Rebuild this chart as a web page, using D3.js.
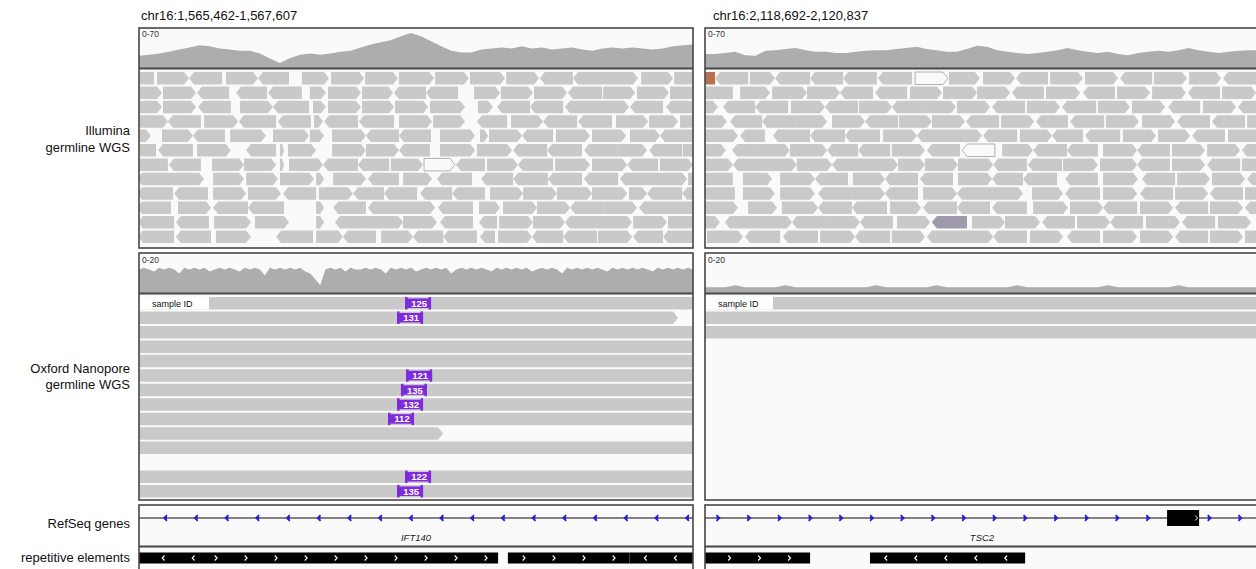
<!DOCTYPE html>
<html>
<head>
<meta charset="utf-8">
<script src="https://cdn.jsdelivr.net/npm/d3@7"></script>
<style>
  body { margin: 0; background: #fff; font-family: "Liberation Sans", Arial, sans-serif; }
</style>
</head>
<body>
<div id="chart"></div>
<script>
// loci shown side by side (2146 bp windows)
var loci = ["chr16:1,565,462-1,567,607", "chr16:2,118,692-2,120,837"];
var winLen = 2146;

// coverage (Illumina scale 0-70, Nanopore scale 0-20)
var illuminaCovL = [22,24,26,29,33,37,41,39,35,33,31,31,26,17,9,18,24,26,24,26,29,31,37,42,46,50,57,63,57,48,39,31,28,28,33,35,37,35,39,35,37,33,35,37,33,31,35,37,35,37,35,33,35,39,41,42];
var illuminaCovR = [25,25,27,29,23,22,31,32,34,36,32,29,29,27,27,29,31,32,32,34,36,38,34,32,29,29,34,40,38,32,29,27,25,27,29,32,36,32,29,27,29,25,23,27,29,31,29,32,36,32,29,27,29,31,32,32];
var nanoCovL = [12,13,12,11,13,12,13,12,10,13,12,
  13,12,13,11,12,13,12,13,12,11,
  13,12,13,12,9,13,12,13,12,13,
  12,13,11,10,7,4,12,
  13,12,13,11,13,12,12,13,12,
  13,12,10,13,12,13,12,13,11,12,
  13,12,13,12,13,10,12,13,12,13,
  12,13,12,11,13,12,13,12,13,12,
  13,11,12,13,12,13,12,10,13,12,
  13,12,13,12,13,12,11,13,12,13,
  12,13,12,13,12,11,13,12,13,12,13,12,13,12];
var nanoCovR = [3,3,3,4,3,3,3,3,4,3,3,3,3,3,3,3,3,4,3,3,3,3,3,4,3,3,3,3,3,3,3,4,3,3,3,3,3,3,3,3,4,3,3,3,3,3,3,4,3,3,3,3,3,3,3,3];

// Illumina reads: "start:end" (bp from window start), strand, flag (w = mapq 0, d = dark, o = clipped)
var illuminaReadsL = [
  "-77:58< 70:194> 194:322< 337:461> 461:581< 631:736> 744:872> 876:1003> 1007:1143> 1147:1278> 1282:1418> 1422:1550> 1553:1681< 1681:1805< 1805:1933> 1945:2069> 2073:2200>",
  "-39:89> 93:221> 225:349< 376:496< 500:631< 662:724> 732:860> 864:984> 988:1112< 1112:1236< 1298:1399> 1402:1526> 1530:1658> 1662:1794< 1798:1922> 1929:2053> 2057:2185>",
  "-39:89> 93:221> 229:356< 391:519> 519:659< 674:724> 732:860> 864:988> 992:1120> 1127:1263> 1313:1371> 1387:1515< 1515:1643< 1650:1778< 1778:1898> 1902:2030< 2042:2169<",
  "-15:112> 112:240< 252:384> 387:531< 538:666< 678:713> 717:848< 852:988< 1007:1135> 1139:1263> 1309:1426< 1441:1565> 1565:1697< 1701:1832< 1848:1972> 1976:2088> 2096:2224>",
  "-81:46> 89:209> 209:333< 353:492> 519:659> 662:717> 748:879> 879:1007< 1007:1131< 1166:1302> 1321:1352> 1356:1484> 1484:1604< 1615:1747> 1755:1887> 1902:2018> 2018:2173<",
  "-62:66< 74:209< 225:356> 415:531< 546:562> 577:686> 748:879> 879:1007> 1007:1127< 1166:1302> 1309:1445> 1449:1581< 1581:1716< 1724:1852< 1852:1968> 1976:2104< 2107:2235>",
  "-15:112< 116:240< 283:407> 407:531> 546:562> 581:713> 713:848< 848:969< 976:1100> 1104:1224>w 1228:1340< 1348:1468> 1468:1604< 1612:1747> 1755:1891> 1891:2011< 2018:2146>",
  "-8:132< 132:252> 287:407> 415:538> 546:678> 686:717> 752:879> 887:1007< 1023:1135> 1154:1290< 1325:1449< 1449:1584< 1584:1716< 1724:1856< 1863:1987< 1987:2123> 2127:2251>",
  "-8:132< 136:267< 287:415> 422:550> 558:686< 697:829> 829:949< 949:1077< 1089:1213< 1213:1340< 1360:1488> 1488:1619> 1619:1755> 1755:1891> 1898:1968> 1968:2104< 2104:2231<",
  "-8:124< 151:279> 287:422< 422:562< 686:717> 752:879< 887:1007< 1007:1147> 1158:1294< 1317:1399> 1410:1542> 1542:1670> 1670:1798< 1798:1929> 1937:2057< 2057:2185>",
  "-4:136< 143:271< 291:434> 449:581> 686:717> 759:879< 879:1023> 1023:1154> 1166:1294< 1317:1387< 1395:1526> 1526:1650> 1650:1778< 1778:1910> 1914:2045> 2049:2177>",
  "-4:136< 143:279< 298:434> 531:674< 686:790> 790:918< 938:1061> 1061:1178< 1178:1309< 1321:1379< 1391:1522> 1522:1643< 1643:1774< 1778:1910> 1914:2030< 2030:2160<"
];
var illuminaReadsR = [
  "-89:39<o 39:167< 174:271> 271:407< 407:535< 535:666< 670:802< 814:941>w 945:1065> 1077:1201> 1205:1329< 1337:1464> 1472:1600> 1608:1732< 1739:1867> 1875:1999> 2007:2135<",
  "-19:108< 136:252> 260:395> 395:523> 523:651< 659:783< 794:918> 922:1054> 1054:1182> 1189:1313< 1321:1453> 1464:1588< 1596:1724> 1732:1863> 1871:1995< 2003:2135>",
  "-77:50> 70:194< 194:322< 333:465> 465:593< 597:724> 724:845< 845:972> 976:1104> 1112:1240< 1247:1375> 1383:1515< 1522:1646> 1654:1782> 1794:1918< 1929:2057> 2065:2193<",
  "-39:85> 97:221< 221:349< 349:473> 492:620> 620:748< 752:879> 879:1007> 1011:1139< 1147:1275> 1282:1406< 1414:1546< 1553:1681> 1693:1821> 1829:1956< 1964:2092< 2100:2228>",
  "-4:128> 136:232< 263:407< 407:542< 542:678< 690:821> 821:949< 949:1073> 1077:1209< 1220:1344> 1344:1464< 1472:1608< 1619:1747> 1755:1879> 1887:2014< 2026:2154>",
  "-46:81> 105:201< 201:329> 329:473> 473:593< 593:717< 724:852> 860:988< 996:1123<w 1151:1271> 1271:1402< 1402:1522< 1542:1674> 1674:1801< 1809:1937> 1945:2073> 2080:2208<",
  "-20:108> 108:225< 225:356> 356:492> 492:620< 620:748> 748:852> 852:980> 980:1116> 1116:1247< 1251:1383< 1387:1522> 1530:1674> 1674:1801< 1809:1937> 1945:2073< 2080:2208>",
  "-20:108< 147:260> 291:426> 426:554< 573:697> 697:825< 833:961< 980:1112> 1112:1232< 1232:1364< 1395:1522< 1542:1677> 1693:1821< 1829:1956> 1964:2092> 2100:2228<",
  "-12:116< 147:271> 291:426> 438:569< 569:697> 697:825< 845:976> 976:1112< 1112:1232> 1267:1387> 1395:1530< 1542:1674> 1685:1813< 1821:1949> 1956:2084< 2092:2220>",
  "-4:128> 167:279> 298:438> 438:569< 569:705< 717:837> 845:976< 976:1104< 1112:1247< 1271:1406> 1414:1542> 1542:1674< 1685:1813> 1821:1949< 1956:2084> 2092:2220<",
  "-70:58> 77:205< 205:337> 337:473< 473:600> 600:728< 744:872> 879:1015<d 1034:1162> 1162:1298> 1306:1433< 1441:1569> 1569:1697< 1708:1840> 1848:1976< 1987:2115>",
  "8:147> 155:291< 302:438< 446:581> 581:717< 724:852> 860:988< 988:1116> 1116:1247< 1259:1387> 1402:1530< 1542:1674> 1685:1813> 1821:1949< 1956:2084> 2092:2220>"
];

// Nanopore long reads, one per row
var nanoReadsL = ["-4000:6000>", "-4000:2088>", "-4000:6000>", "-4000:6000>", "-4000:6000>", "-4000:6000>", "-4000:6000>",
  "-4000:6000>", "-4000:6000>", "-4000:1178>", "-4000:6000>", "", "-4000:6000>", "-4000:6000>"];
var nanoReadsR = ["-4000:6000>", "-4000:6000>", "-4000:6000>"];

// insertions in the Nanopore reads (left locus)
var insRows = [0, 1, 5, 6, 7, 8, 12, 13];
var insPos = [1081, 1050, 1085, 1065, 1050, 1015, 1081, 1050];
var insSize = ["125", "131", "121", "135", "132", "112", "122", "135"];

// RefSeq genes
var geneNames = ["IFT140", "TSC2"];
var geneStrands = ["-", "+"];
var geneExons = [[], [[1790, 1914]]];

// repetitive elements: [start, end, strand]
var repeatsL = [[-200, 236, "-"], [236, 1391, "+"], [1429, 1900, "+"], [1900, 2400, "-"]];
var repeatsR = [[-200, 407, "+"], [639, 1240, "-"]];

var trackLabels = [["Illumina", "germline WGS"], ["Oxford Nanopore", "germline WGS"], ["RefSeq genes"], ["repetitive elements"]];

var W = 1256, H = 569;
var svg = d3.select("#chart").append("svg").attr("width", W).attr("height", H);

var panels = [
  {x0: 139, x1: 693, covI: illuminaCovL, covN: nanoCovL, readsI: illuminaReadsL, readsN: nanoReadsL, reps: repeatsL},
  {x0: 705, x1: 1259, covI: illuminaCovR, covN: nanoCovR, readsI: illuminaReadsR, readsN: nanoReadsR, reps: repeatsR}
];

var L = {illTop: 28, illCov: 68, illBot: 248, readTop: 72, pitch: 14.4, readH: 12.5,
  nanoTop: 253, nanoCov: 293, nanoBot: 500, nReadTop: 297, nPitch: 14.46,
  geneTop: 505, geneLine: 518, repTop: 546.5, repBot: 575};

var border = "#474747";
var readColor = {"": "#c9c9c9", w: "#f9f9f9", d: "#9e9aab", o: "#b8714e"};

function parseRow(str) {
  str = str.trim();
  if (!str) return [];
  return str.split(/\s+/).map(function(t) {
    var m = t.match(/^(-?\d+):(-?\d+)([<>])([wdo]?)$/);
    return {s: +m[1], e: +m[2], dir: m[3], flag: m[4]};
  });
}

function readPath(x0, x1, yt, h, dir) {
  var yb = yt + h, ym = yt + h / 2, tip = Math.min(5, (x1 - x0) / 2);
  var pts = dir === ">"
    ? [[x0, yt], [x1 - tip, yt], [x1, ym], [x1 - tip, yb], [x0, yb]]
    : [[x0 + tip, yt], [x1, yt], [x1, yb], [x0 + tip, yb], [x0, ym]];
  return "M" + pts.map(function(p) { return p.join(","); }).join("L") + "Z";
}

panels.forEach(function(p, i) {
  var x = d3.scaleLinear().domain([0, winLen]).range([p.x0, p.x1]);

  svg.append("clipPath").attr("id", "clip" + i)
    .append("rect").attr("x", p.x0).attr("y", 0).attr("width", p.x1 - p.x0).attr("height", H);
  var g = svg.append("g").attr("clip-path", "url(#clip" + i + ")");

  // locus header
  svg.append("text").attr("x", p.x0 + (i === 0 ? 2 : 8)).attr("y", 20)
    .attr("font-size", 13).attr("fill", "#111").text(loci[i]);

  // backgrounds
  [[L.illTop, L.illBot], [L.nanoTop, L.nanoBot], [L.geneTop, L.repBot]].forEach(function(b) {
    g.append("rect").attr("x", p.x0).attr("y", b[0]).attr("width", p.x1 - p.x0)
      .attr("height", b[1] - b[0]).attr("fill", "#fafafa");
  });

  // Illumina coverage
  var binI = d3.scaleLinear().domain([0, p.covI.length - 1]).range([0, winLen]);
  var yI = d3.scaleLinear().domain([0, 70]).range([L.illCov, L.illTop + 1]);
  g.append("path").datum(p.covI).attr("fill", "#adadad")
    .attr("d", d3.area().x(function(d, k) { return x(binI(k)); }).y0(L.illCov).y1(function(d) { return yI(d); }));
  g.append("text").attr("x", p.x0 + 3).attr("y", 37).attr("font-size", 8.5).attr("fill", "#333").text("0-70");

  // Illumina reads
  p.readsI.forEach(function(row, r) {
    var yt = L.readTop + r * L.pitch;
    parseRow(row).forEach(function(rd) {
      g.append("path").attr("d", readPath(x(rd.s), x(rd.e), yt, L.readH, rd.dir))
        .attr("fill", readColor[rd.flag])
        .attr("stroke", rd.flag === "w" ? "#a0a0a0" : "none").attr("stroke-width", 0.8);
    });
  });

  // Nanopore coverage
  var binN = d3.scaleLinear().domain([0, p.covN.length - 1]).range([0, winLen]);
  var yN = d3.scaleLinear().domain([0, 20]).range([L.nanoCov, L.nanoTop + 1]);
  g.append("path").datum(p.covN).attr("fill", "#adadad")
    .attr("d", d3.area().x(function(d, k) { return x(binN(k)); }).y0(L.nanoCov).y1(function(d) { return yN(d); }));
  g.append("text").attr("x", p.x0 + 3).attr("y", 263).attr("font-size", 8.5).attr("fill", "#333").text("0-20");

  // Nanopore reads
  p.readsN.forEach(function(row, r) {
    var yt = L.nReadTop + r * L.nPitch;
    parseRow(row).forEach(function(rd) {
      g.append("path").attr("d", readPath(x(rd.s), x(rd.e), yt, L.readH, rd.dir)).attr("fill", "#c9c9c9");
    });
  });
  // sample label over first row
  g.append("rect").attr("x", p.x0).attr("y", L.nReadTop).attr("width", i === 0 ? 70 : 68)
    .attr("height", L.readH).attr("fill", "#fff");
  g.append("text").attr("x", p.x0 + 13).attr("y", L.nReadTop + 9.5).attr("font-size", 9).attr("fill", "#111").text("sample ID");

  // insertions (left locus only)
  if (i === 0) {
    insRows.forEach(function(r, k) {
      var cx = x(insPos[k]), yt = L.nReadTop + r * L.nPitch, w = 26;
      var ig = g.append("g");
      ig.append("rect").attr("x", cx - w / 2).attr("y", yt + 1.5).attr("width", w).attr("height", L.readH - 3).attr("fill", "#7f2bdb");
      ig.append("rect").attr("x", cx - w / 2).attr("y", yt).attr("width", 2.5).attr("height", L.readH).attr("fill", "#7f2bdb");
      ig.append("rect").attr("x", cx + w / 2 - 2.5).attr("y", yt).attr("width", 2.5).attr("height", L.readH).attr("fill", "#7f2bdb");
      ig.append("text").attr("x", cx + 1).attr("y", yt + 9.8).attr("text-anchor", "middle")
        .attr("font-size", 9.5).attr("font-weight", "bold").attr("fill", "#fff").text(insSize[k]);
    });
  }

  // RefSeq gene
  g.append("line").attr("x1", p.x0).attr("x2", p.x1).attr("y1", L.geneLine).attr("y2", L.geneLine)
    .attr("stroke", "#5a5a5a").attr("stroke-width", 1.3);
  var exPx = geneExons[i].map(function(e) { return [x(e[0]), x(e[1])]; });
  d3.range(12, W + 40, 30.7).filter(function(ax) {
    return ax > p.x0 + 4 && ax < p.x1 - 2 && !exPx.some(function(e) { return ax > e[0] - 4 && ax < e[1] + 4; });
  }).forEach(function(ax) {
    var d = geneStrands[i] === "-"
      ? "M" + (ax + 1.5) + "," + (L.geneLine - 3) + "L" + (ax - 1.5) + "," + L.geneLine + "L" + (ax + 1.5) + "," + (L.geneLine + 3)
      : "M" + (ax - 1.5) + "," + (L.geneLine - 3) + "L" + (ax + 1.5) + "," + L.geneLine + "L" + (ax - 1.5) + "," + (L.geneLine + 3);
    g.append("path").attr("d", d).attr("fill", "#2222d8").attr("stroke", "#2222d8").attr("stroke-width", 1.6);
  });
  exPx.forEach(function(e) {
    g.append("rect").attr("x", e[0]).attr("y", L.geneLine - 8).attr("width", e[1] - e[0]).attr("height", 16).attr("fill", "#000");
    g.append("path").attr("d", "M" + (e[1] - 4) + "," + (L.geneLine - 2.5) + "L" + (e[1] - 1.5) + "," + L.geneLine + "L" + (e[1] - 4) + "," + (L.geneLine + 2.5))
      .attr("fill", "none").attr("stroke", "#fff").attr("stroke-width", 1);
  });
  g.append("text").attr("x", x(winLen / 2)).attr("y", 541).attr("text-anchor", "middle")
    .attr("font-size", 9.5).attr("font-style", "italic").attr("fill", "#222").text(geneNames[i]);

  // repetitive elements
  p.reps.forEach(function(rp) {
    var xa = x(rp[0]), xb = x(rp[1]);
    g.append("rect").attr("x", xa).attr("y", 552.5).attr("width", xb - xa).attr("height", 11).attr("fill", "#000");
    d3.range(xa + 16, xb - 5, 30).forEach(function(cx) {
      var d = rp[2] === "-"
        ? "M" + (cx + 1.2) + ",555.5L" + (cx - 1.2) + ",558L" + (cx + 1.2) + ",560.5"
        : "M" + (cx - 1.2) + ",555.5L" + (cx + 1.2) + ",558L" + (cx - 1.2) + ",560.5";
      g.append("path").attr("d", d).attr("fill", "none").attr("stroke", "#fff").attr("stroke-width", 1.1);
    });
  });

  // borders
  var bw = p.x1 - p.x0;
  [[L.illTop, L.illBot], [L.nanoTop, L.nanoBot], [L.geneTop, L.repBot]].forEach(function(b) {
    svg.append("rect").attr("x", p.x0).attr("y", b[0]).attr("width", bw).attr("height", b[1] - b[0])
      .attr("fill", "none").attr("stroke", border).attr("stroke-width", 1.6);
  });
  [L.illCov + 0.5, L.nanoCov + 0.5, L.repTop].forEach(function(yy) {
    svg.append("line").attr("x1", p.x0).attr("x2", p.x1).attr("y1", yy).attr("y2", yy)
      .attr("stroke", border).attr("stroke-width", 1.8);
  });
});

// track names on the left
var labelY = [[135, 152], [373, 389], [528], [562]];
trackLabels.forEach(function(lines, k) {
  lines.forEach(function(t, j) {
    svg.append("text").attr("x", 130).attr("y", labelY[k][j]).attr("text-anchor", "end")
      .attr("font-size", 13).attr("fill", "#111").text(t);
  });
});
</script>
</body>
</html>
